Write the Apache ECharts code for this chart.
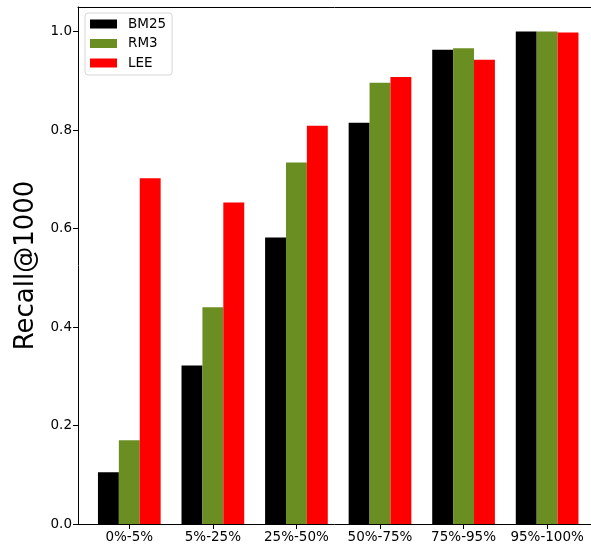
<!DOCTYPE html>
<html>
<head>
<meta charset="utf-8">
<script src="https://cdn.jsdelivr.net/npm/echarts@6/dist/echarts.min.js"></script>
<style>html,body{margin:0;padding:0;background:#fff;overflow:hidden}#c{width:591px;height:550px}</style>
</head>
<body>
<div id="c"></div>
<script>
var categories = ['0%-5%', '5%-25%', '25%-50%', '50%-75%', '75%-95%', '95%-100%'];
var bm25 = [0.105, 0.322, 0.582, 0.815, 0.963, 1.0];
var rm3  = [0.170, 0.440, 0.734, 0.896, 0.966, 1.0];
var lee  = [0.702, 0.653, 0.809, 0.908, 0.943, 0.998];
var yTicks = [0, 0.2, 0.4, 0.6, 0.8, 1.0];

function toPts(arr) { return arr.map(function (v, i) { return [i, v]; }); }
var xTicks = categories.map(function (c, i) { return i; });

var font = 'DejaVu Sans';
var chart = echarts.init(document.getElementById('c'), null, {renderer: 'canvas'});
chart.setOption({
  animation: false,
  backgroundColor: '#fff',
  textStyle: {fontFamily: font},
  grid: {left: 78, top: 7, bottom: 26, right: 0, outerBoundsMode: 'none', containLabel: false, show: false},
  legend: {
    orient: 'vertical', left: 85, top: 13,
    itemWidth: 27, itemHeight: 9, itemGap: 5.5,
    padding: [4, 6, 5, 5],
    backgroundColor: '#fff', borderColor: '#d6d6d6', borderWidth: 1, borderRadius: 3,
    icon: 'rect',
    textStyle: {fontFamily: font, fontSize: 13.5, color: '#000', padding: [0, 0, 0, 6]},
    data: ['BM25', 'RM3', 'LEE']
  },
  xAxis: [{
    type: 'value', min: -0.614, max: 5.525, position: 'bottom',
    splitLine: {show: false},
    axisLine: {show: true, onZero: false, lineStyle: {color: '#000', width: 1}},
    axisTick: {show: true, customValues: xTicks, length: 5, lineStyle: {color: '#000'}},
    axisLabel: {customValues: xTicks, fontFamily: font, fontSize: 13.5, color: '#000', margin: 6,
      formatter: function (v) { return categories[Math.round(v)]; }}
  }, {
    type: 'value', min: -0.614, max: 5.525, position: 'top',
    splitLine: {show: false},
    axisLine: {show: true, onZero: false, lineStyle: {color: '#000', width: 1}},
    axisTick: {show: false}, axisLabel: {show: false}
  }],
  yAxis: {
    type: 'value', min: 0, max: 1.05,
    name: 'Recall@1000', nameLocation: 'middle', nameGap: 38,
    nameTextStyle: {fontFamily: font, fontSize: 26, color: '#000'},
    splitLine: {show: false},
    axisLine: {show: true, onZero: false, lineStyle: {color: '#000', width: 1}},
    axisTick: {show: true, customValues: yTicks, length: 5, lineStyle: {color: '#000'}},
    axisLabel: {customValues: yTicks, fontFamily: font, fontSize: 13.5, color: '#000', margin: 6,
      formatter: function (v) { return v.toFixed(1); }}
  },
  series: [
    {name: 'BM25', type: 'bar', data: toPts(bm25), barWidth: 20.9, barGap: '0%', itemStyle: {color: '#000000'}},
    {name: 'RM3', type: 'bar', data: toPts(rm3), barWidth: 20.9, barGap: '0%', itemStyle: {color: '#6b8e23'}},
    {name: 'LEE', type: 'bar', data: toPts(lee), barWidth: 20.9, barGap: '0%', itemStyle: {color: '#ff0000'}}
  ]
});
</script>
</body>
</html>
